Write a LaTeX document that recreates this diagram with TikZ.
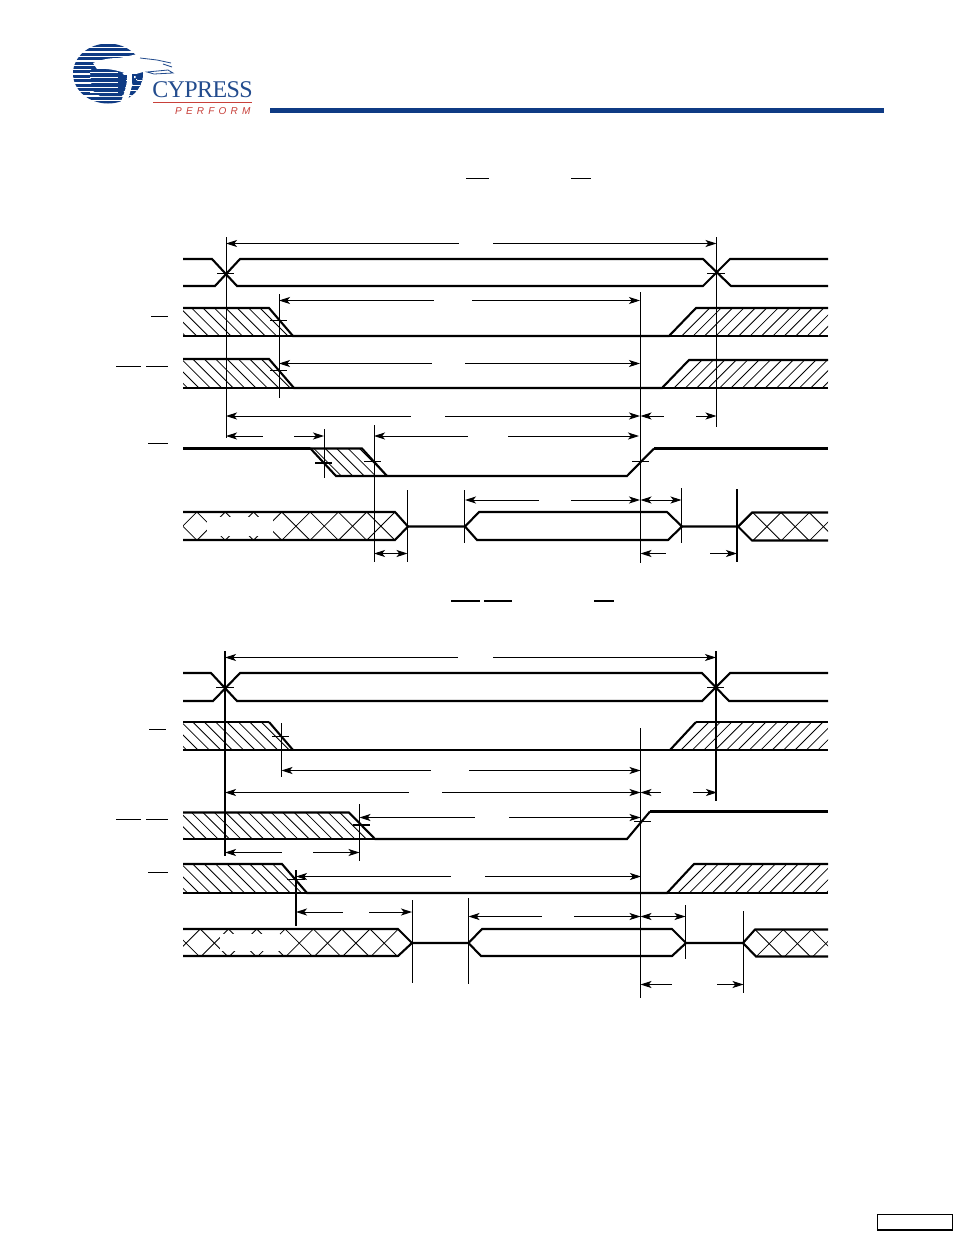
\documentclass[tikz,border=0pt]{standalone}
\usepackage{fontspec}
\setmainfont{Liberation Serif}
\newfontfamily\perffont[LetterSpace=42]{Liberation Sans}
\newfontfamily\logofont[LetterSpace=-2.5]{Liberation Serif}
\usetikzlibrary{arrows.meta}
\definecolor{cyblue}{HTML}{0F3B84}
\definecolor{cytext}{HTML}{234C8E}
\definecolor{cyred}{HTML}{C8403A}
\tikzset{
  sig/.style={line width=2.1pt,line join=miter,line cap=butt},
  sigthick/.style={line width=2.8pt},
  guide/.style={line width=1pt},
  guideb/.style={line width=1.8pt},
  tick/.style={line width=1pt},
  tickb/.style={line width=2pt},
  head/.tip={Stealth[length=11pt,width=7pt,inset=2.8pt]},
  dim/.style={line width=0.9pt},
  diml/.style={dim,head-},
  dimr/.style={dim,-head},
  dimb/.style={dim,head-head},
  bar/.style={line width=1pt},
  barb/.style={line width=1.9pt},
  hatch/.style={line width=0.8pt}
}
\newcommand{\hatchDown}[5]{\begin{scope}\clip #1;
  \pgfmathsetmacro{\hh}{#3-#2}
  \pgfmathsetmacro{\hn}{int((#5-(#4))/11.4)}
  \foreach \hi in {0,...,\hn} {\pgfmathsetmacro{\hxx}{#4+11.4*\hi}\draw[hatch] (\hxx,#2)--(\hxx+\hh,#3);}
  \end{scope}}
\newcommand{\hatchUp}[5]{\begin{scope}\clip #1;
  \pgfmathsetmacro{\hh}{#3-#2}
  \pgfmathsetmacro{\hn}{int((#5-(#4))/11.4)}
  \foreach \hi in {0,...,\hn} {\pgfmathsetmacro{\hxx}{#4+11.4*\hi}\draw[hatch] (\hxx,#2)--(\hxx-\hh,#3);}
  \end{scope}}
\newcommand{\crossH}[5]{\begin{scope}\clip #1;
  \pgfmathsetmacro{\hh}{#3-#2}
  \foreach \hi in {0,...,#5} {\pgfmathsetmacro{\hxx}{#4+28.3*\hi}
    \draw[hatch] (\hxx,#2)--(\hxx+\hh,#3);
    \draw[hatch] (\hxx,#2)--(\hxx-\hh,#3);}
  \end{scope}}
\begin{document}
\begin{tikzpicture}[x=1pt,y=-1pt]
\useasboundingbox (0,0) rectangle (954,1235);
\fill[white] (0,0) rectangle (954,1235);
% ---------- logo ----------
\begin{scope}
  \clip (108,73.5) ellipse [x radius=35,y radius=30];
  \foreach \sy in {44,48.4,...,104} {\fill[cyblue] (70,\sy) rectangle (146,\sy+3);}
  \fill[cyblue] (93,66) -- (118,68) -- (128,80) -- (122,96) -- (100,96) -- (92,90) -- (90,72) -- cycle;
  \foreach \sy in {72,77,82,87,92} {\fill[white] (90,\sy) rectangle (118,\sy+1);}
  \fill[cyblue] (131,72) -- (146,70) -- (146,92) -- (124,104) -- cycle;
  \foreach \sy in {80,85,90,95} {\fill[white] (126,\sy) rectangle (146,\sy+1);}
\end{scope}
% bird
\fill[white] (93,63) .. controls (100,60) and (108,58) .. (118,58) .. controls (126,57) and (132,55) .. (138,54)
  -- (150,57) -- (172,63) -- (150,70) -- (136,74) .. controls (133,82) and (130,92) .. (127,104) -- (120,104)
  .. controls (124,94) and (128,84) .. (127,74) .. controls (118,70) and (105,68) .. (97,69) -- cycle;
\draw[cytext,line width=0.8pt] (140,58) -- (157,60) -- (171,63) (163,64) -- (172,67) (147,72) -- (168,70) -- (173,73) -- (154,74) -- cycle;
\fill[cyblue] (132,74) -- (139,74) -- (137,81) -- (132,84) -- cycle;
\fill[white] (134,76) rectangle (135.5,78) (136,79) rectangle (137,80);
\node[cytext,inner sep=0pt,anchor=center,font=\fontsize{24}{24}\logofont] (logotext) at (202.5,90) {CYPRESS};
\draw[cyred,line width=0.8pt] (153,102.7) -- (252,102.7);
\node[cyred,inner sep=0pt,anchor=west,font=\fontsize{10}{10}\perffont\itshape] (logoperf) at (175,111) {PERFORM};
% header bar and footer box
\fill[cyblue] (270,108) rectangle (884,113);
\draw[line width=1.4pt] (877.5,1214.5) rectangle (952.5,1229.5);
\draw[line width=1pt] (877,1230) -- (953,1230);
% title overlines
\draw[bar] (466,178.5) -- (489,178.5) (571,178.5) -- (591,178.5);
\draw[barb] (451,600.7) -- (480,600.7) (484,600.7) -- (512,600.7) (594,600.7) -- (614,600.7);
% ================== first diagram ==================
\draw[bar] (151,316) -- (168,316) (116,366) -- (141,366) (146,366) -- (168,366) (148,443) -- (168,443);
% row A
\draw[sig] (183,259) -- (212,259) -- (237,286) -- (703,286) -- (730,259) -- (828,259);
\draw[sig] (183,286) -- (215,286) -- (240,259) -- (703,259) -- (731,286) -- (828,286);
\draw[sigthick] (183,286) -- (215,286) (237,286) -- (703,286) (731,286) -- (828,286);
% row B
\hatchDown{(183,308) -- (269,308) -- (293,336) -- (183,336) -- cycle}{308}{336}{157.4}{290}
\hatchUp{(669,336) -- (696,308) -- (828,308) -- (828,336) -- cycle}{308}{336}{709.7}{860}
\draw[sig] (183,308) -- (269,308) -- (293,336) -- (669,336) -- (696,308) -- (828,308);
\draw[sig] (183,336) -- (293,336);
\draw[sig] (669,336) -- (828,336);
% row C
\hatchDown{(183,359) -- (269,359) -- (294,388) -- (183,388) -- cycle}{359}{388}{158.6}{290}
\hatchUp{(662,388) -- (689,360) -- (828,360) -- (828,388) -- cycle}{360}{388}{702}{860}
\draw[sig] (183,359) -- (269,359) -- (294,388) -- (662,388) -- (689,360) -- (828,360);
\draw[sig] (183,388) -- (294,388);
\draw[sig] (662,388) -- (828,388);
% row D
\hatchDown{(310,448) -- (362,448) -- (387,476) -- (336,476) -- cycle}{448}{476}{302}{375}
\draw[sigthick] (183,448.5) -- (310,448.5);
\draw[sig] (310,448.5) -- (362,448.5) -- (387,476);
\draw[sig] (310,448) -- (336,476) -- (627,476) -- (654,448.5);
\draw[sigthick] (654,448.5) -- (828,448.5);
% row E
\crossH{(183,512) -- (395,512) -- (408,526.5) -- (395,540) -- (183,540) -- cycle}{512}{540}{168.6}{8}
\fill[white] (207,516.5) rectangle (273,535.5);
\crossH{(738,526.5) -- (752,512.5) -- (828,512.5) -- (828,540.5) -- (752,540.5) -- cycle}{512.5}{540.5}{752.7}{3}
\draw[sig] (183,512) -- (395,512) -- (408,526.5) -- (395,540) -- (183,540);
\draw[sig] (408,526.5) -- (465,526.5) -- (479,512) -- (667,512) -- (682,526.5) -- (668,540) -- (477,540) -- (465,526.5);
\draw[sig] (682,526.5) -- (738,526.5) -- (752,512.5) -- (828,512.5);
\draw[sig] (738,526.5) -- (752,540.5) -- (828,540.5);
% guides
\draw[guide] (226,237) -- (226,438);
\draw[guide] (716.5,237) -- (716.5,427);
\draw[guide] (279,294) -- (279,398);
\draw[guide] (640.5,292) -- (640.5,563);
\draw[guide] (324.5,429) -- (324.5,478);
\draw[guide] (374,425) -- (374,562);
\draw[guide] (407.5,490) -- (407.5,562);
\draw[guide] (464.5,490) -- (464.5,543);
\draw[guide] (681.5,488) -- (681.5,543);
\draw[guideb] (737,489) -- (737,562);
% ticks
\draw[tick] (217,273) -- (234,273) (707,273) -- (725,273);
\draw[tick] (270,320.5) -- (287,320.5) (270,370) -- (287,370);
\draw[tickb] (315,463) -- (332,463);
\draw[tick] (364,461) -- (381,461) (632,461) -- (649,461);
% dims
\draw[diml] (226,243.5) -- (459,243.5);
\draw[dimr] (493,243.5) -- (716.5,243.5);
\draw[diml] (279,300.5) -- (434,300.5);
\draw[dimr] (472,300.5) -- (640,300.5);
\draw[diml] (279,363.5) -- (432,363.5);
\draw[dimr] (465,363.5) -- (640,363.5);
\draw[diml] (226,416) -- (411,416);
\draw[dimr] (445,416) -- (640,416);
\draw[diml] (640.5,416) -- (664,416);
\draw[dimr] (696,416) -- (716.5,416);
\draw[diml] (226,436) -- (263,436);
\draw[dimr] (294,436) -- (324,436);
\draw[diml] (374,436) -- (468,436);
\draw[dimr] (508,436) -- (639,436);
\draw[diml] (465,500) -- (539,500);
\draw[dimr] (571,500) -- (640,500);
\draw[dimb] (640.5,500) -- (681.5,500);
\draw[dimb] (374,553.5) -- (407.5,553.5);
\draw[diml] (640.5,553.5) -- (666,553.5);
\draw[dimr] (710,553.5) -- (737,553.5);
% ================== second diagram ==================
\draw[bar] (149,729) -- (166,729) (116,819.5) -- (141,819.5) (146,819.5) -- (168,819.5) (148,872) -- (168,872);
% row A
\draw[sig] (183,673) -- (211,673) -- (237,701) -- (702,701) -- (730,673) -- (828,673);
\draw[sig] (183,701) -- (213,701) -- (240,673) -- (702,673) -- (729,701) -- (828,701);
% row B
\hatchDown{(183,722) -- (269,722) -- (293,750) -- (183,750) -- cycle}{722}{750}{158.6}{290}
\hatchUp{(670,750) -- (696,722) -- (828,722) -- (828,750) -- cycle}{722}{750}{709}{860}
\draw[sigthick] (183,722) -- (269,722);
\draw[sig] (269,722) -- (293,750);
\draw[sig] (183,750) -- (828,750);
\draw[sig] (670,750) -- (696,722);
\draw[sigthick] (696,722) -- (828,722);
% row C
\hatchDown{(183,812.5) -- (349,812.5) -- (375,839) -- (183,839) -- cycle}{812.5}{839}{157.4}{372}
\draw[sig] (183,812.5) -- (349,812.5) -- (375,839) -- (627,839) -- (650,811.5);
\draw[sigthick] (650,811.5) -- (828,811.5);
\draw[sig] (183,839) -- (375,839);
% row D
\hatchDown{(183,864) -- (282,864) -- (307,893) -- (183,893) -- cycle}{864}{893}{158.6}{300}
\hatchUp{(667,893) -- (694,864) -- (828,864) -- (828,893) -- cycle}{864}{893}{707}{860}
\draw[sig] (183,864) -- (282,864) -- (307,893) -- (667,893) -- (694,864) -- (828,864);
\draw[sig] (183,893) -- (307,893);
\draw[sig] (667,893) -- (828,893);
% row E
\crossH{(183,929) -- (398,929) -- (412,943) -- (398,956) -- (183,956) -- cycle}{929}{956}{171.9}{8}
\fill[white] (219.5,933.5) rectangle (280,950.5);
\crossH{(743,943) -- (755,929.5) -- (828,929.5) -- (828,956.5) -- (756,956.5) -- cycle}{929.5}{956.5}{755}{3}
\draw[sig] (183,929) -- (398,929) -- (412,943) -- (398,956) -- (183,956);
\draw[sig] (412,943) -- (468.5,943) -- (482,929) -- (672,929) -- (686,943) -- (672,956) -- (481,956) -- (468.5,943);
\draw[sig] (686,943) -- (743,943) -- (755,929.5) -- (828,929.5);
\draw[sig] (743,943) -- (756,956.5) -- (828,956.5);
% guides
\draw[guideb] (225,651) -- (225,856);
\draw[guideb] (716,651) -- (716,801);
\draw[guide] (281.5,723) -- (281.5,777);
\draw[guide] (640.5,728) -- (640.5,998);
\draw[guide] (359.5,804) -- (359.5,861);
\draw[guideb] (296,870) -- (296,926);
\draw[guide] (412.5,900) -- (412.5,983);
\draw[guide] (468.5,898) -- (468.5,984);
\draw[guide] (685.5,905) -- (685.5,959);
\draw[guide] (743.5,911) -- (743.5,993);
% ticks
\draw[tick] (216,687.5) -- (234,687.5) (707,687.5) -- (724,687.5);
\draw[tick] (272,736.5) -- (289,736.5);
\draw[tickb] (353,824.5) -- (370,824.5);
\draw[tick] (634,821) -- (651,821) (287,879) -- (305,879);
% dims
\draw[diml] (225,657.5) -- (458,657.5);
\draw[dimr] (493,657.5) -- (716,657.5);
\draw[diml] (281.5,770.5) -- (431,770.5);
\draw[dimr] (469,770.5) -- (640.5,770.5);
\draw[diml] (225,792.5) -- (409,792.5);
\draw[dimr] (442,792.5) -- (640.5,792.5);
\draw[diml] (640.5,792.5) -- (661,792.5);
\draw[dimr] (693,792.5) -- (717,792.5);
\draw[diml] (359.5,817.5) -- (475,817.5);
\draw[dimr] (509,817.5) -- (640.5,817.5);
\draw[diml] (225,852.5) -- (282,852.5);
\draw[dimr] (313,852.5) -- (359.5,852.5);
\draw[diml] (296,876.5) -- (451,876.5);
\draw[dimr] (485,876.5) -- (641,876.5);
\draw[diml] (296,912) -- (343,912);
\draw[dimr] (369,912) -- (412,912);
\draw[diml] (468.5,916.5) -- (542,916.5);
\draw[dimr] (574,916.5) -- (640.5,916.5);
\draw[dimb] (640.5,916.5) -- (685.5,916.5);
\draw[diml] (640.5,984.5) -- (672,984.5);
\draw[dimr] (717,984.5) -- (743.5,984.5);
\end{tikzpicture}
\end{document}
